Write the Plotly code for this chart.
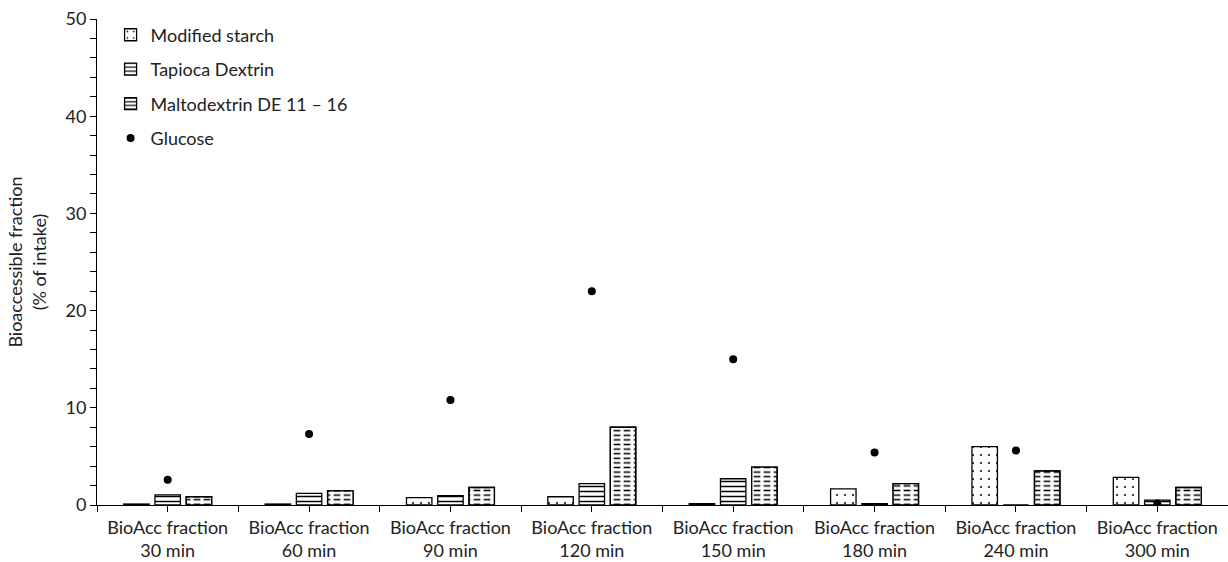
import plotly.graph_objects as go

# Sampling times (x categories)
times = ["30 min", "60 min", "90 min", "120 min", "150 min", "180 min", "240 min", "300 min"]
categories = ["BioAcc fraction<br>" + t for t in times]

# Bioaccessible fraction (% of intake)
modified_starch = [0.1, 0.1, 0.75, 0.85, 0.15, 1.65, 6.0, 2.85]
tapioca_dextrin = [1.05, 1.2, 0.95, 2.2, 2.7, 0.15, 0.0, 0.5]
maltodextrin = [0.85, 1.45, 1.8, 8.0, 3.9, 2.2, 3.5, 1.8]
glucose = [2.6, 7.3, 10.8, 22.0, 15.0, 5.4, 5.6, 0.15]

pos = list(range(len(categories)))
BAR_W = 0.18   # bar width in category units
SLOT = 0.221   # distance between bar centres within a group
FONT = "Lato"
FS = 18
OUTLINE = dict(color="black", width=1.3)

fig = go.Figure()

fig.add_trace(go.Bar(
    name="Modified starch", x=pos, y=modified_starch,
    width=BAR_W, offset=-SLOT - BAR_W / 2, opacity=1,
    marker=dict(color="white", line=OUTLINE,
                pattern=dict(shape=".", size=8, solidity=0.05, fgopacity=1,
                             fgcolor="black", bgcolor="white")),
    legendgroup="a",
))
fig.add_trace(go.Bar(
    name="Tapioca Dextrin", x=pos, y=tapioca_dextrin,
    width=BAR_W, offset=-BAR_W / 2, opacity=1,
    marker=dict(color="white", line=OUTLINE,
                pattern=dict(shape="-", size=5, solidity=0.3, fgopacity=1,
                             fgcolor="black", bgcolor="white")),
    legendgroup="b",
))
fig.add_trace(go.Bar(
    name="Maltodextrin DE 11 \u2013 16", x=pos, y=maltodextrin,
    width=BAR_W, offset=SLOT - BAR_W / 2, opacity=1,
    marker=dict(color="white", line=OUTLINE,
                pattern=dict(shape="-", size=4.6, solidity=0.33, fgopacity=1,
                             fgcolor="black", bgcolor="white")),
    legendgroup="c",
))
# white vertical stripes break the horizontal lines into dashes
fig.add_trace(go.Bar(
    x=pos, y=maltodextrin, width=BAR_W, offset=SLOT - BAR_W / 2, opacity=1,
    marker=dict(color="rgba(0,0,0,0)", line=dict(width=0),
                pattern=dict(shape="|", size=10, solidity=0.33, fgopacity=1,
                             fgcolor="white", bgcolor="rgba(0,0,0,0)")),
    showlegend=False, hoverinfo="skip", legendgroup="c",
))
# redraw the outline on top
fig.add_trace(go.Bar(
    x=pos, y=maltodextrin, width=BAR_W, offset=SLOT - BAR_W / 2, opacity=1,
    marker=dict(color="rgba(0,0,0,0)", line=OUTLINE),
    showlegend=False, hoverinfo="skip", legendgroup="c",
))
fig.add_trace(go.Scatter(
    name="Glucose", x=pos, y=glucose, mode="markers",
    marker=dict(color="black", size=8),
    legendgroup="d",
))

fig.update_layout(
    width=1228, height=562,
    barmode="overlay",
    plot_bgcolor="white", paper_bgcolor="white",
    margin=dict(l=97, r=0, t=19, b=57),
    font=dict(family=FONT, size=FS, color="#222"),
    showlegend=True,
    legend=dict(x=0.012, y=1.005, xanchor="left", yanchor="top",
                bgcolor="rgba(0,0,0,0)", font=dict(size=FS),
                tracegroupgap=8, traceorder="grouped"),
)
fig.update_xaxes(
    range=[-0.5, len(categories) - 0.5],
    tickmode="array", tickvals=pos, ticktext=categories,
    ticks="outside", ticklen=6, tickcolor="black",
    minor=dict(tickvals=[p - 0.5 for p in pos] + [pos[-1] + 0.5],
               ticks="outside", ticklen=6, tickcolor="black"),
    showline=True, linecolor="black", linewidth=1,
    showgrid=False, zeroline=False,
    tickfont=dict(size=FS),
)
fig.update_yaxes(
    range=[0, 50], tickvals=[0, 10, 20, 30, 40, 50],
    ticks="outside", ticklen=6, tickcolor="black",
    minor=dict(dtick=2, ticks="outside", ticklen=6, tickcolor="black", showgrid=False),
    showline=True, linecolor="black", linewidth=1,
    showgrid=False, zeroline=False,
    title=dict(text="Bioaccessible fraction<br>(% of intake)", font=dict(size=FS), standoff=14),
    tickfont=dict(size=FS),
)

fig.write_html("out.html")
